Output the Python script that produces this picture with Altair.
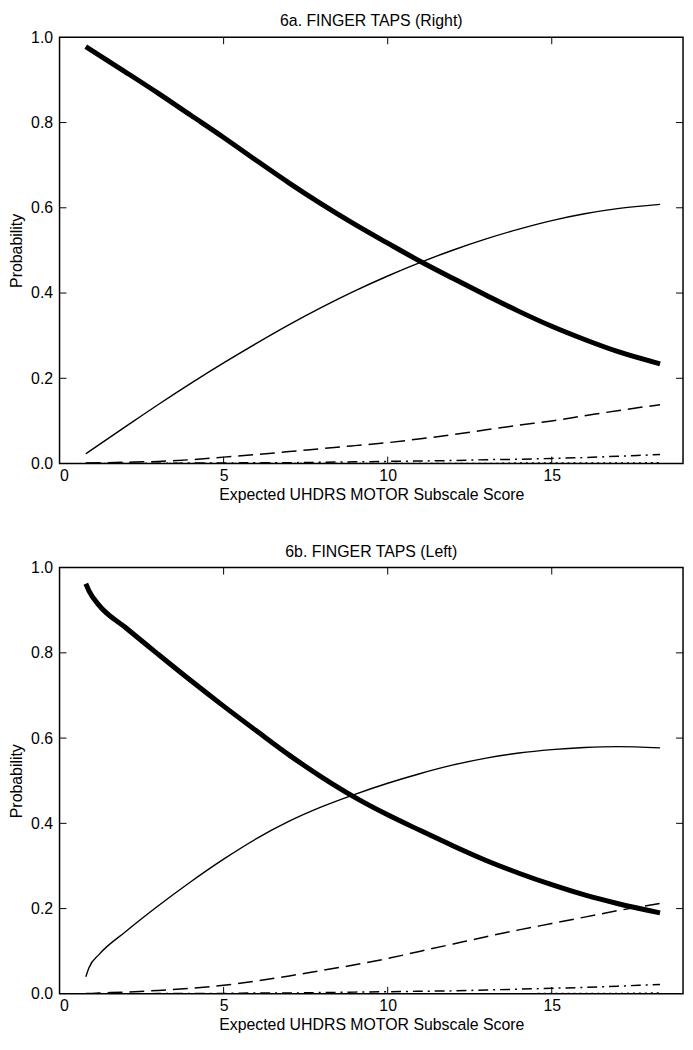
import altair as alt
import pandas as pd

# ---------------- data ----------------
x_a = [0.8, 2, 3, 4, 5, 6, 7, 8, 9, 10, 11, 12, 13, 14, 15, 16, 17, 18.3]
a_score0 = [0.978, 0.919, 0.869, 0.817, 0.765, 0.711, 0.658, 0.608, 0.561, 0.517,
            0.474, 0.434, 0.395, 0.357, 0.322, 0.291, 0.263, 0.234]
a_score1 = [0.023, 0.086, 0.138, 0.188, 0.236, 0.282, 0.326, 0.367, 0.405, 0.44,
            0.472, 0.501, 0.527, 0.55, 0.57, 0.586, 0.598, 0.608]
a_score2 = [0.001, 0.003, 0.005, 0.009, 0.015, 0.021, 0.028, 0.035, 0.042, 0.049,
            0.058, 0.068, 0.079, 0.09, 0.10, 0.112, 0.124, 0.138]
a_score3 = [0.0, 0.0, 0.0005, 0.001, 0.001, 0.002, 0.002, 0.003, 0.004, 0.005,
            0.006, 0.007, 0.009, 0.010, 0.012, 0.014, 0.017, 0.021]
a_score4 = [0.0, 0.0, 0.0, 0.0, 0.0, 0.0, 0.0, 0.0, 0.0, 0.0,
            0.0, 0.0, 0.0, 0.001, 0.001, 0.001, 0.001, 0.002]

x_b = [0.8, 0.9, 1.2, 2, 3, 4, 5, 6, 7, 8, 9, 10, 11, 12, 13, 14, 15, 16, 17, 18.3]
b_score0 = [0.962, 0.945, 0.912, 0.86, 0.797, 0.735, 0.675, 0.617, 0.56, 0.508,
            0.461, 0.42, 0.383, 0.347, 0.313, 0.283, 0.256, 0.232, 0.212, 0.19]
b_score1 = [0.04, 0.062, 0.092, 0.145, 0.206, 0.263, 0.316, 0.364, 0.405, 0.439,
            0.468, 0.494, 0.517, 0.537, 0.553, 0.565, 0.573, 0.578, 0.58, 0.577]
b_score2 = [0.001, 0.001, 0.002, 0.004, 0.008, 0.013, 0.02, 0.03, 0.042, 0.055,
            0.068, 0.083, 0.10, 0.117, 0.134, 0.15, 0.165, 0.18, 0.195, 0.212]
b_score3 = [0.0, 0.0, 0.0, 0.0, 0.0005, 0.001, 0.001, 0.002, 0.002, 0.003,
            0.004, 0.005, 0.006, 0.007, 0.009, 0.011, 0.013, 0.015, 0.018, 0.022]
b_score4 = [0.0] * 16 + [0.001, 0.001, 0.001, 0.002]

x_ticks = [0, 5, 10, 15]
y_ticks = [0.0, 0.2, 0.4, 0.6, 0.8, 1.0]
inner_x_ticks = [5, 10, 15]
inner_y_ticks = [0.2, 0.4, 0.6, 0.8]

titles = ["6a. FINGER TAPS (Right)", "6b. FINGER TAPS (Left)"]
x_title = "Expected UHDRS MOTOR Subscale Score"
y_title = "Probability"

# ---------------- styling ----------------
W, H = 629, 430
FONT = "Liberation Sans"
FS = 16
styles = [
    dict(strokeWidth=5),
    dict(strokeWidth=1.4),
    dict(strokeWidth=1.5, strokeDash=[15, 7]),
    dict(strokeWidth=1.5, strokeDash=[10, 5, 2, 5]),
    dict(strokeWidth=1.5, strokeDash=[2, 4]),
]

xscale = alt.Scale(domain=[0, 19], nice=False, zero=False)
yscale = alt.Scale(domain=[0, 1], nice=False)


def panel(xs, series, title):
    layers = []
    for vals, st in zip(series, styles):
        df = pd.DataFrame({"x": xs, "p": vals})
        layers.append(
            alt.Chart(df).mark_line(color="black", interpolate="monotone",
                                    strokeCap="butt", clip=True, **st).encode(
                x=alt.X("x:Q", scale=xscale,
                        axis=alt.Axis(values=x_ticks, title=x_title, grid=False,
                                      domain=False, ticks=False, labelFontSize=FS,
                                      labelPadding=4, titleFontSize=FS,
                                      titlePadding=3, titleFontWeight="normal",
                                      labelColor="black", titleColor="black",
                                      labelFont=FONT, titleFont=FONT)),
                y=alt.Y("p:Q", scale=yscale,
                        axis=alt.Axis(values=y_ticks, format=".1f", title=y_title,
                                      grid=False, domain=False, ticks=False,
                                      labelFontSize=FS, labelPadding=7,
                                      titleFontSize=FS, titlePadding=6,
                                      titleFontWeight="normal", labelColor="black",
                                      titleColor="black", labelFont=FONT,
                                      titleFont=FONT)),
            )
        )
    tx = pd.DataFrame({"t": inner_x_ticks})
    ty = pd.DataFrame({"t": inner_y_ticks})
    tick_bottom = alt.Chart(tx).mark_rule(color="black", strokeWidth=1).encode(
        x=alt.X("t:Q", scale=xscale), y=alt.value(H), y2=alt.value(H - 7))
    tick_top = alt.Chart(tx).mark_rule(color="black", strokeWidth=1).encode(
        x=alt.X("t:Q", scale=xscale), y=alt.value(0), y2=alt.value(7))
    tick_left = alt.Chart(ty).mark_rule(color="black", strokeWidth=1).encode(
        y=alt.Y("t:Q", scale=yscale), x=alt.value(0), x2=alt.value(7))
    tick_right = alt.Chart(ty).mark_rule(color="black", strokeWidth=1).encode(
        y=alt.Y("t:Q", scale=yscale), x=alt.value(W), x2=alt.value(W - 7))
    return alt.layer(*layers, tick_bottom, tick_top, tick_left, tick_right).properties(
        width=W, height=H,
        title=alt.TitleParams(title, fontSize=FS, font=FONT, fontWeight="normal",
                              color="black", anchor="middle", frame="group",
                              offset=0),
    )


top = panel(x_a, [a_score0, a_score1, a_score2, a_score3, a_score4], titles[0])
bottom = panel(x_b, [b_score0, b_score1, b_score2, b_score3, b_score4], titles[1])

chart = alt.vconcat(top, bottom, spacing=40, padding=0).configure(
    background="white", padding=0
).configure_view(stroke="black", strokeWidth=1.5)

chart.save("out.html", embed_options={"renderer": "svg", "actions": False})
